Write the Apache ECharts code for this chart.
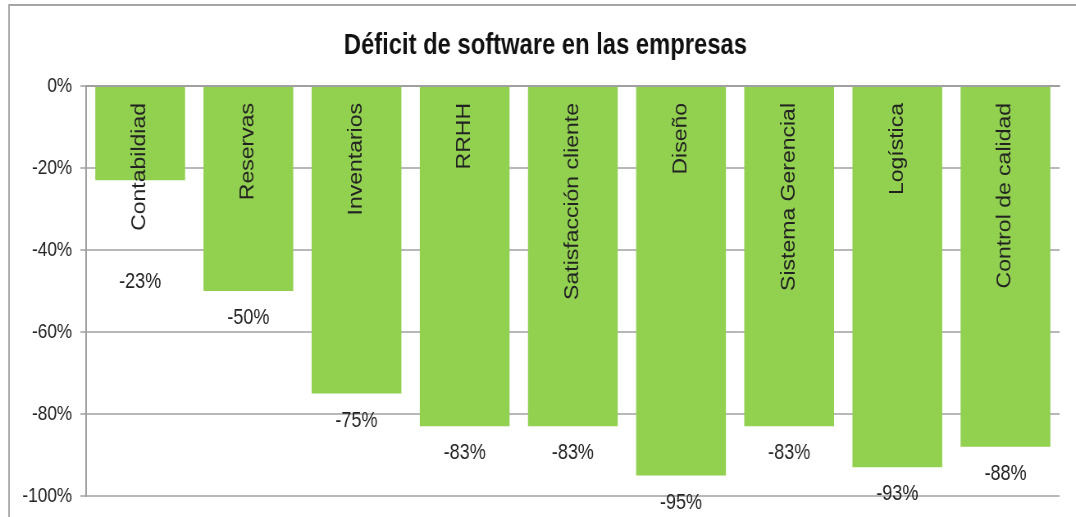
<!DOCTYPE html>
<html>
<head>
<meta charset="utf-8">
<script src="https://cdn.jsdelivr.net/npm/echarts@6/dist/echarts.min.js"></script>
<style>
  html, body { margin: 0; padding: 0; background: #fff; overflow: hidden; }
  /* la captura original esta comprimida en horizontal: se dibuja mas ancho y se estrecha */
  #chart { width: 1312px; height: 517px; transform: scaleX(0.8201); transform-origin: 0 0; }
</style>
</head>
<body>
<div id="chart"></div>
<script>
// datos
var categorias = ['Contabildiad', 'Reservas', 'Inventarios', 'RRHH', 'Satisfacción cliente',
                  'Diseño', 'Sistema Gerencial', 'Logística', 'Control de calidad'];
var deficit = [-23, -50, -75, -83, -83, -95, -83, -93, -88];
var ticksY = [0, -20, -40, -60, -80, -100];

var fuente = "'Liberation Sans', Arial, sans-serif";

var myChart = echarts.init(document.getElementById('chart'));

var serieData = deficit.map(function (v, i) {
    // la etiqueta de Contabildiad esta bajada para no tapar el nombre
    if (i === 0) return { value: v, label: { distance: 91 } };
    return v;
});

var option = {
    backgroundColor: '#fff',
    animation: false,
    title: {
        text: 'Déficit de software en las empresas',
        left: 660,
        top: 26,
        textAlign: 'center',
        textStyle: {
            fontFamily: fuente,
            fontSize: 29,
            fontWeight: 'bold',
            color: '#111'
        }
    },
    graphic: [{
        type: 'rect',
        shape: { x: 11, y: 5, width: 1500, height: 700 },
        style: { fill: 'none', stroke: '#a6a6a6', lineWidth: 2 },
        silent: true
    }],
    grid: { left: 105, right: 20, top: 86, bottom: 21 },
    xAxis: {
        type: 'category',
        position: 'top',
        z: 3,
        data: categorias,
        axisLine: { lineStyle: { color: '#a0a0a0', width: 2 } },
        axisTick: { inside: true, length: 5, lineStyle: { color: '#a0a0a0', width: 1.5 } },
        axisLabel: {
            inside: true,
            rotate: 90,
            interval: 0,
            margin: 17,
            color: '#222',
            fontSize: 23,
            fontFamily: fuente
        },
        splitLine: { show: false }
    },
    yAxis: {
        type: 'value',
        min: -100,
        max: 0,
        interval: 20,
        axisLine: { show: true, lineStyle: { color: '#a0a0a0', width: 2 } },
        axisTick: { show: true, length: 7, lineStyle: { color: '#a0a0a0', width: 1.5 } },
        axisLabel: {
            formatter: function (v) {
                return ticksY.indexOf(v) >= 0 ? v + '%' : '';
            },
            margin: 17,
            color: '#222',
            fontSize: 21,
            fontFamily: fuente
        },
        splitLine: { lineStyle: { color: '#a0a0a0', width: 1.5 } }
    },
    series: [{
        name: 'Déficit',
        type: 'bar',
        data: serieData,
        barCategoryGap: '17%',
        itemStyle: { color: '#92d050' },
        label: {
            show: true,
            position: 'outside',
            distance: 16,
            formatter: '{c}%',
            color: '#222',
            fontSize: 22,
            fontFamily: fuente
        }
    }]
};

myChart.setOption(option);
</script>
</body>
</html>
